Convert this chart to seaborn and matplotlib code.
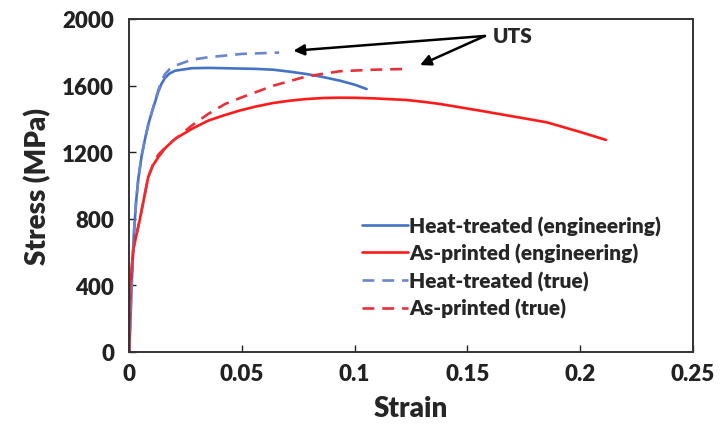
import seaborn as sns
import matplotlib.pyplot as plt

# --- Curve data (strain, MPa) ---
ht_eng_strain = [0, 0.001, 0.002, 0.003, 0.004, 0.0055, 0.007, 0.0085, 0.01, 0.0114,
                 0.0128, 0.0142, 0.0158, 0.0178, 0.0203, 0.0277, 0.035, 0.0425, 0.0491,
                 0.0565, 0.0639, 0.0713, 0.0787, 0.086, 0.0935, 0.1, 0.1053]
ht_eng_stress = [0, 380, 700, 900, 1040, 1180, 1280, 1370, 1440, 1500,
                 1560, 1608, 1645, 1672, 1689, 1704, 1706, 1704, 1702,
                 1700, 1695, 1683, 1669, 1651, 1629, 1605, 1579]

ht_true_strain = [0, 0.001, 0.002, 0.003, 0.004, 0.0055, 0.007, 0.0085, 0.01, 0.0114,
                  0.0128, 0.0142, 0.0158, 0.018, 0.0203, 0.0277, 0.035, 0.0425, 0.0499,
                  0.058, 0.0665]
ht_true_stress = [0, 380, 700, 900, 1040, 1180, 1280, 1370, 1440, 1505,
                  1570, 1625, 1668, 1700, 1719, 1755, 1770, 1780, 1790,
                  1794, 1798]

ap_eng_strain = [0, 0.0003, 0.0018, 0.0047, 0.0084, 0.0105, 0.0129, 0.016, 0.0203, 0.0277,
                 0.035, 0.0425, 0.0491, 0.0565, 0.0639, 0.0713, 0.0787, 0.0861, 0.0935,
                 0.1009, 0.1083, 0.1157, 0.1231, 0.1305, 0.1379, 0.1556, 0.17, 0.1852,
                 0.2, 0.2115]
ap_eng_stress = [0, 378, 617, 797, 1050, 1120, 1170, 1225, 1279, 1339,
                 1389, 1423, 1450, 1475, 1495, 1509, 1519, 1525, 1527,
                 1526, 1523, 1518, 1513, 1502, 1489, 1449, 1415, 1379,
                 1321, 1273]

ap_true_strain = [0, 0.0003, 0.0018, 0.0047, 0.0084, 0.0105, 0.0129, 0.0173, 0.0277, 0.035,
                  0.0425, 0.0499, 0.0639, 0.0787, 0.0935, 0.1083, 0.1238]
ap_true_stress = [0, 378, 617, 797, 1050, 1125, 1185, 1245, 1359, 1429,
                  1489, 1529, 1599, 1655, 1686, 1695, 1700]

labels = ['Heat-treated (engineering)', 'As-printed (engineering)',
          'Heat-treated (true)', 'As-printed (true)']

# UTS annotation: arrow tips, arrow tail and label position
uts_tips = [(0.0728, 1809), (0.129, 1723)]
uts_tail = (0.1578, 1898)
uts_text = (0.1614, 1900)

blue = '#4472C4'
red = '#FF1A1A'
blue_true = '#6A86CC'
red_true = '#E8303A'

sns.set_theme(style='white')
plt.rcParams['font.family'] = ['Lato', 'DejaVu Sans']
plt.rcParams['font.weight'] = 'heavy'
W = 'heavy'

fig = plt.figure(figsize=(7.24, 4.27), dpi=100)
ax = fig.add_axes([0.1786, 0.174, 0.7782, 0.7792])

sns.lineplot(x=ht_eng_strain, y=ht_eng_stress, sort=False, color=blue, lw=1.9,
             label=labels[0], ax=ax)
sns.lineplot(x=ap_eng_strain, y=ap_eng_stress, sort=False, color=red, lw=1.9,
             label=labels[1], ax=ax)
sns.lineplot(x=ht_true_strain, y=ht_true_stress, sort=False, color=blue_true, lw=1.9,
             label=labels[2], ax=ax)
sns.lineplot(x=ap_true_strain, y=ap_true_stress, sort=False, color=red_true, lw=1.9,
             label=labels[3], ax=ax)
ax.lines[2].set_dashes([4.5, 3])
ax.lines[3].set_dashes([4.5, 3])

# --- UTS arrows ---
for tip in uts_tips:
    ax.annotate('', xy=tip, xytext=uts_tail,
                arrowprops=dict(arrowstyle='-|>', color='black', lw=1.8,
                                mutation_scale=16, shrinkA=0, shrinkB=0))
ax.text(uts_text[0], uts_text[1], 'UTS', fontsize=15, fontweight=W,
        va='center', ha='left')

ax.set_xlim(0, 0.25)
ax.set_ylim(0, 2000)
ax.set_xticks([0, 0.05, 0.1, 0.15, 0.2, 0.25])
ax.set_xticklabels(['0', '0.05', '0.1', '0.15', '0.2', '0.25'])
ax.set_yticks(range(0, 2001, 400))
ax.tick_params(direction='in', length=5, width=1, labelsize=16,
               bottom=True, left=True, top=False, right=False, colors='#222222')
ax.tick_params(axis='x', pad=8)
ax.tick_params(axis='y', pad=11)
for lbl in ax.get_xticklabels() + ax.get_yticklabels():
    lbl.set_fontweight(W)
for sp in ax.spines.values():
    sp.set_color('#333333')
    sp.set_linewidth(1.4)

ax.set_xlabel('Strain', fontsize=20, fontweight=W, labelpad=8)
ax.set_ylabel('Stress (MPa)', fontsize=20, fontweight=W, labelpad=8)

leg = ax.legend(loc='upper left', bbox_to_anchor=(0.413, 0.409), frameon=False,
                fontsize=15, handlelength=2.2, handletextpad=0.05,
                labelspacing=0.36, borderaxespad=0, borderpad=0)
for t in leg.get_texts():
    t.set_fontweight(W)

fig.savefig('out.png', dpi=100)
